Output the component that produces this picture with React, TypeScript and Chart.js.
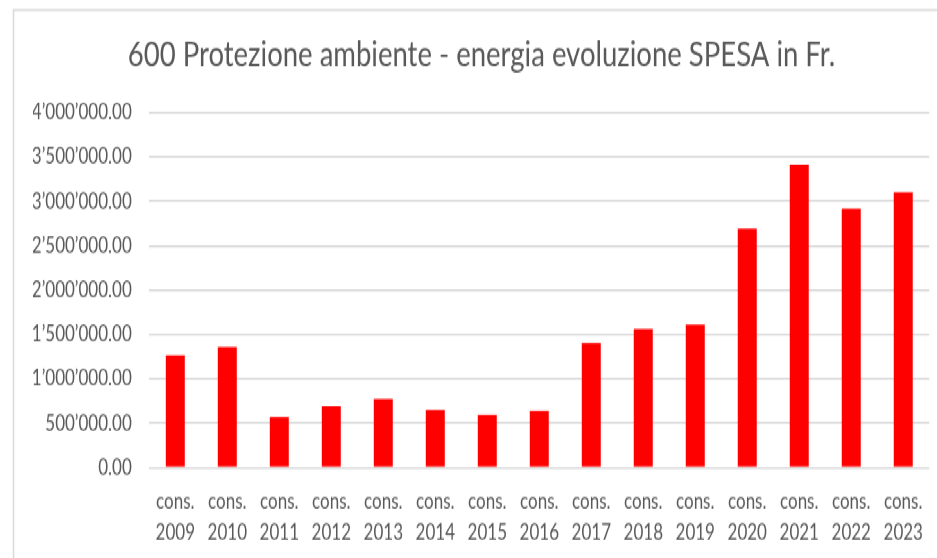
import React, { useEffect, useRef } from "react";
import { Chart, registerables } from "chart.js";

Chart.register(...registerables);

const categories: string[][] = [
  ["cons.", "2009"], ["cons.", "2010"], ["cons.", "2011"], ["cons.", "2012"], ["cons.", "2013"],
  ["cons.", "2014"], ["cons.", "2015"], ["cons.", "2016"], ["cons.", "2017"], ["cons.", "2018"],
  ["cons.", "2019"], ["cons.", "2020"], ["cons.", "2021"], ["cons.", "2022"], ["cons.", "2023"],
];
const spesa: number[] = [
  1266000, 1356000, 570000, 690000, 773000, 649000, 592000, 637000,
  1405000, 1563000, 1608000, 2691000, 3413000, 2917000, 3101000,
];
const yMin = 0;
const yMax = 4000000;
const yStep = 500000;
const titleText = "600 Protezione ambiente - energia evoluzione SPESA in Fr.";

const W = 937;
const H = 430;
const K = 558 / H;
const FONT = "Lato, 'Open Sans', sans-serif";

function fmt(v: number): string {
  const [intPart, dec] = Math.abs(v).toFixed(2).split(".");
  const grouped = intPart.replace(/\B(?=(\d{3})+(?!\d))/g, "\u2019");
  return (v < 0 ? "-" : "") + grouped + "." + dec;
}

const framePlugin = {
  id: "frame",
  beforeDraw(chart: any) {
    const ctx = chart.ctx;
    ctx.save();
    ctx.fillStyle = "#ffffff";
    ctx.fillRect(0, 0, chart.width, chart.height);
    ctx.strokeStyle = "#d9d9d9";
    ctx.lineWidth = 1.5;
    ctx.beginPath();
    ctx.moveTo(13.5, chart.height + 2);
    ctx.lineTo(13.5, 7.7);
    ctx.lineTo(chart.width + 2, 7.7);
    ctx.stroke();
    ctx.restore();
  },
};

export default function App() {
  const ref = useRef<HTMLCanvasElement | null>(null);
  useEffect(() => {
    if (!ref.current) return;
    const chart = new Chart(ref.current, {
      type: "bar",
      data: {
        labels: categories,
        datasets: [
          {
            label: "Spesa",
            data: spesa,
            backgroundColor: "#ff0000",
            borderWidth: 0,
            categoryPercentage: 1,
            barPercentage: 0.365,
          },
        ],
      },
      options: {
        animation: false,
        responsive: true,
        maintainAspectRatio: false,
        layout: { padding: { left: 33, right: 7, top: 0, bottom: 9.7 } },
        plugins: {
          legend: { display: false },
          tooltip: { enabled: false },
          title: {
            display: true,
            text: titleText,
            color: "#595959",
            font: { family: FONT, size: 27.5, weight: "normal", lineHeight: 1.2 },
            padding: { top: 25.5, bottom: 28.3 },
          },
        },
        scales: {
          x: {
            grid: { display: false, drawTicks: false },
            border: { display: false },
            ticks: {
              color: "#595959",
              font: { family: FONT, size: 17, lineHeight: 1.44 },
              padding: 13.8,
              maxRotation: 0,
              autoSkip: false,
            },
            afterFit(scale: any) {
              scale.height = 60;
            },
          },
          y: {
            min: yMin,
            max: yMax,
            grid: { color: "#d9d9d9", lineWidth: 1.6, drawTicks: false },
            border: { display: false },
            ticks: {
              stepSize: yStep,
              color: "#595959",
              font: { family: FONT, size: 17 },
              padding: 17.5,
              callback: (v: any) => fmt(Number(v)),
            },
            afterFit(scale: any) {
              scale.width = 116.3;
            },
          },
        },
      },
      plugins: [framePlugin],
    });
    return () => chart.destroy();
  }, []);

  return (
    <div
      style={{
        position: "fixed",
        left: 0,
        top: 0,
        width: W,
        height: H,
        transform: `scaleY(${K})`,
        transformOrigin: "0 0",
        background: "#ffffff",
      }}
    >
      <canvas ref={ref} />
    </div>
  );
}
